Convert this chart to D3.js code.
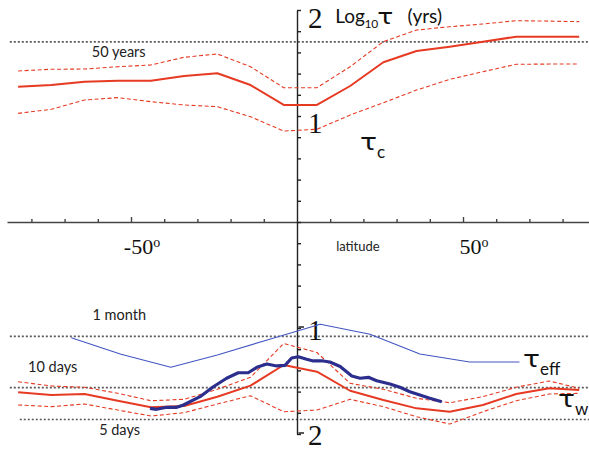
<!DOCTYPE html>
<html><head><meta charset="utf-8">
<script src="https://cdn.jsdelivr.net/npm/d3@7"></script>
<style>
html,body{margin:0;padding:0;background:#fff;}
svg{display:block;}
</style>
</head><body>
<svg id="chart" width="589" height="449"></svg>
<script>
// ---- data (log10 of timescale in years) ----
const latGrid   = [-84,-74,-64,-54,-44,-34,-24,-14,-4,6,16,26,36,46,56,66,76,85];
const tauC      = [1.276,1.292,1.324,1.333,1.333,1.377,1.403,1.292,1.104,1.104,1.283,1.507,1.613,1.654,1.701,1.748,1.748,1.748];
const tauCHigh  = [1.425,1.441,1.443,1.465,1.481,1.554,1.585,1.465,1.267,1.267,1.465,1.701,1.811,1.842,1.868,1.899,1.895,1.890];
const tauCLow   = [1.025,1.063,1.151,1.173,1.135,1.104,1.088,0.993,0.858,0.875,1.009,1.125,1.245,1.346,1.418,1.488,1.490,1.491];
const tauW      = [-1.607,-1.632,-1.623,-1.686,-1.748,-1.736,-1.648,-1.544,-1.349,-1.412,-1.592,-1.679,-1.758,-1.790,-1.726,-1.623,-1.569,-1.585];
const tauWHigh  = [-1.507,-1.547,-1.559,-1.616,-1.686,-1.673,-1.578,-1.465,-1.146,-1.231,-1.522,-1.578,-1.663,-1.705,-1.648,-1.559,-1.500,-1.569];
const tauWLow   = [-1.726,-1.742,-1.717,-1.774,-1.830,-1.799,-1.717,-1.639,-1.790,-1.774,-1.673,-1.742,-1.837,-1.906,-1.790,-1.686,-1.623,-1.616];
const latEff    = [-68,-53,-38,-24,-9,7,22,37,52,67];
const tauEff    = [-1.092,-1.248,-1.371,-1.255,-1.113,-0.965,-1.059,-1.245,-1.321,-1.321];
const latObs    = [-44.3,-42.3,-39.2,-36.2,-34.2,-29.2,-25.2,-21.2,-17.7,-14.7,-12.1,-9.1,-6.1,-3.6,-1.6,0.4,2.9,4.9,7.9,9.9,13,16.5,19,21.5,24,28,31,34,37,40,43.6];
const tauObs    = [-1.758,-1.767,-1.748,-1.748,-1.726,-1.648,-1.554,-1.474,-1.422,-1.422,-1.371,-1.340,-1.358,-1.352,-1.283,-1.271,-1.295,-1.311,-1.311,-1.321,-1.363,-1.453,-1.474,-1.465,-1.497,-1.528,-1.559,-1.601,-1.632,-1.663,-1.695];
const refLines  = [
  {label:"50 years", value:Math.log10(50),        from:-86.5, labelLat:-61.8, above:false},
  {label:"1 month",  value:Math.log10(1/12),      from:-86.5, labelLat:-61.6, above:true},
  {label:"10 days",  value:Math.log10(10/365.25), from:-86.5, labelLat:-81, above:true},
  {label:"5 days",   value:Math.log10(5/365.25),  from:-83.5, labelLat:-59.6, above:false}
];
const xTickVals = [-80,-70,-60,-50,-40,-30,-20,-10,10,20,30,40,50,60,70,80];
const xMajor    = [-50,50];
const yTickVals = d3.range(-10,11).map(d=>d/5);

// ---- scales ----
const x = d3.scaleLinear().domain([-87.35, 87.95]).range([7, 589]);
const y = d3.scaleLinear().domain([-2, 2]).range([434, 10]);

const svg = d3.select("#chart");
const RED = "#e63a23", BLUE = "#4356c2", NAVY = "#2c2e8e";
const SANS = "Lato, 'Open Sans', sans-serif";
const SERIF = "'Liberation Serif', 'DejaVu Serif', serif";
const TAUFONT = "'DejaVu Sans', sans-serif";

// reference dotted lines
svg.append("g").selectAll("line").data(refLines).join("line")
  .attr("x1", d=>x(d.from)).attr("x2", 589)
  .attr("y1", d=>y(d.value)).attr("y2", d=>y(d.value))
  .attr("stroke", "#5a5a5a").attr("stroke-width", 1.6).attr("stroke-dasharray", "2,2");
svg.append("g").selectAll("text").data(refLines).join("text")
  .attr("x", d=>x(d.labelLat)).attr("y", d=> d.above ? y(d.value)-16 : y(d.value)+15.5)
  .attr("font-family", SANS).attr("font-size", 14.5).attr("fill", "#222")
  .text(d=>d.label);

// axes
const xAxis = d3.axisTop(x).tickValues(xTickVals).tickSize(3).tickSizeOuter(0).tickFormat("");
const gx = svg.append("g").attr("transform", `translate(0,${y(0)})`).call(xAxis);
gx.selectAll("path,line").attr("stroke", "#444").attr("stroke-width", 1.4);
gx.selectAll(".tick line").attr("y2", d => xMajor.includes(d) ? -5 : -3);

const yAxis = d3.axisRight(y).tickValues(yTickVals).tickSize(4).tickSizeOuter(0).tickFormat("");
const gy = svg.append("g").attr("transform", `translate(${x(0)},0)`).call(yAxis);
gy.selectAll("path,line").attr("stroke", "#222").attr("stroke-width", 1.4);

// x labels
const xl = svg.append("g").selectAll("text").data(xMajor).join("text")
  .attr("x", d=>x(d)+11).attr("y", y(0)+32)
  .attr("text-anchor", "middle").attr("font-family", SERIF).attr("font-size", 22).attr("fill", "#111");
xl.append("tspan").text(d=>String(d));
xl.append("tspan").attr("font-size", 14).attr("dy", -7).text("o");
svg.append("text").attr("x", x(11.8)).attr("y", y(0)+29)
  .attr("font-family", SANS).attr("font-size", 13).attr("fill", "#222").text("latitude");

// y labels
const yLabels = [{v:2, t:"2", minus:false, dy:18},{v:1, t:"1", minus:false, dy:17},{v:-1, t:"1", minus:true, dy:12},{v:-2, t:"2", minus:true, dy:11}];
const yl = svg.append("g");
yl.selectAll("text.num").data(yLabels).join("text").attr("class","num")
  .attr("x", x(0)+11).attr("y", d=>y(d.v)+d.dy)
  .attr("font-family", SERIF).attr("font-size", 29).attr("fill", "#111").text(d=>d.t);
yl.selectAll("line.minus").data(yLabels.filter(d=>d.minus)).join("line").attr("class","minus")
  .attr("x1", x(0)+1.5).attr("x2", x(0)+7).attr("y1", d=>y(d.v)-1).attr("y2", d=>y(d.v)-1)
  .attr("stroke", "#222").attr("stroke-width", 1.5);

// tau glyph helper (stretched to match the reference's wide tau)
function tauGlyph(px, py, w, size){
  svg.append("text").attr("x", px).attr("y", py)
    .attr("font-family", TAUFONT).attr("font-size", size).attr("fill", "#111")
    .attr("textLength", w).attr("lengthAdjust", "spacingAndGlyphs").text("τ");
}

// axis title
svg.append("text").attr("x", x(11.5)).attr("y", 23)
  .attr("font-family", SANS).attr("font-size", 19).attr("fill", "#111").text("Log");
svg.append("text").attr("x", x(20.3)).attr("y", 27.5)
  .attr("font-family", SANS).attr("font-size", 12).attr("fill", "#111").text("10");
tauGlyph(x(24.2), 24, 16, 22);
svg.append("text").attr("x", x(33.3)).attr("y", 23)
  .attr("font-family", SANS).attr("font-size", 19).attr("fill", "#111").text("(yrs)");

// lines
const line = d3.line().x(d=>x(d[0])).y(d=>y(d[1]));
const zipL = (xs, ys) => xs.map((v,i)=>[v, ys[i]]);

function drawLine(xs, ys, color, w, dash){
  svg.append("path").datum(zipL(xs, ys)).attr("d", line)
    .attr("fill", "none").attr("stroke", color).attr("stroke-width", w)
    .attr("stroke-dasharray", dash || null).attr("stroke-linejoin", "round");
}
drawLine(latGrid, tauCHigh, RED, 1.1, "4,2.5");
drawLine(latGrid, tauCLow,  RED, 1.1, "4,2.5");
drawLine(latGrid, tauC,     RED, 2);
drawLine(latEff, tauEff, BLUE, 1.1);
drawLine(latGrid, tauWHigh, RED, 1.1, "4,2.5");
drawLine(latGrid, tauWLow,  RED, 1.1, "4,2.5");
drawLine(latGrid, tauW,     RED, 2);
drawLine(latObs, tauObs, NAVY, 3.2);

// tau labels
function tauLabel(lat, val, sub){
  const px = x(lat), py = y(val);
  tauGlyph(px, py, 17, 23);
  svg.append("text").attr("x", px+17).attr("y", py+8)
    .attr("font-family", SANS).attr("font-size", 17).attr("fill", "#111").text(sub);
}
tauLabel(19.0, 0.679, "c");
tauLabel(68.1, -1.368, "eff");
tauLabel(78.6, -1.745, "w");
</script>
</body></html>
